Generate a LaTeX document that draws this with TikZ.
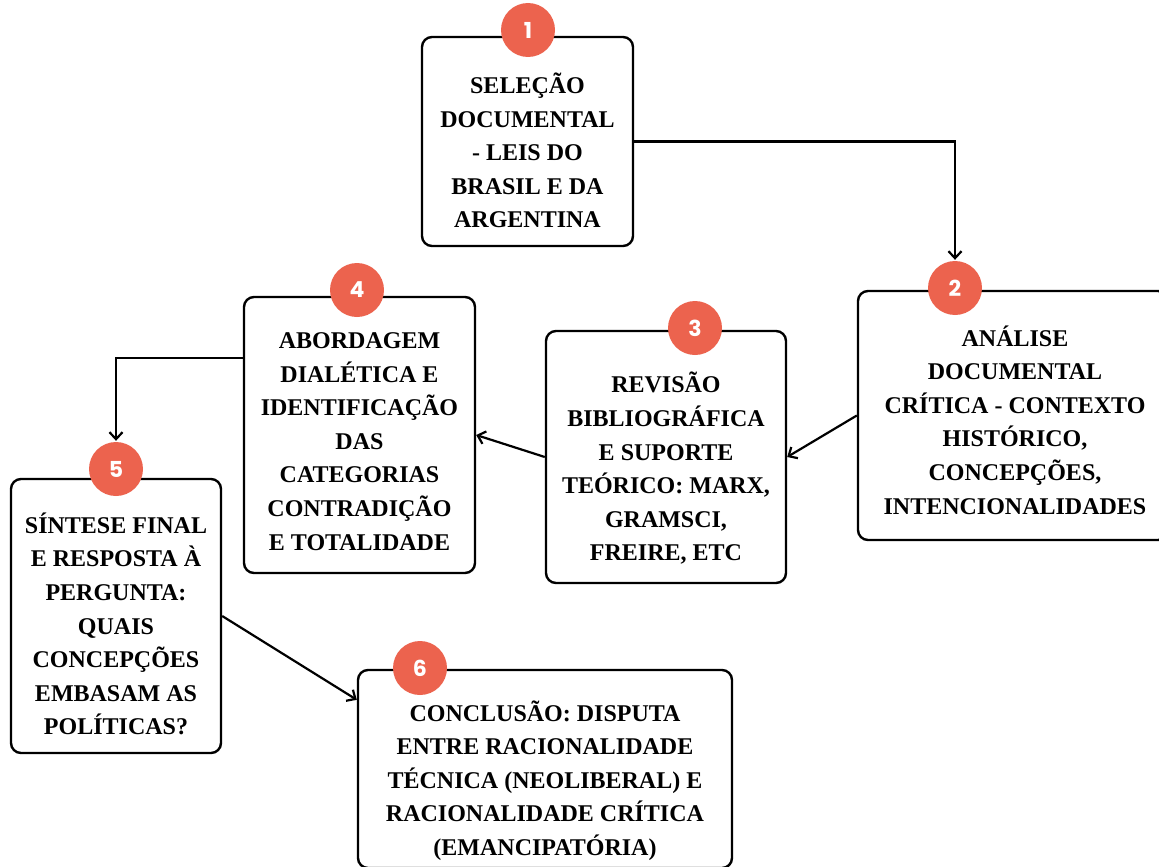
\documentclass[tikz,border=0pt]{standalone}
\usepackage{fontspec}
\setmainfont{Liberation Serif}
\newfontfamily\badgefont{Poppins}
\usetikzlibrary{arrows.meta,calc}
\definecolor{coral}{HTML}{EC634E}
\begin{document}
\begin{tikzpicture}[x=1pt,y=-1pt,
  box/.style={draw=black, line width=2.4pt, rounded corners=10pt, fill=white, inner sep=0pt},
  txt/.style={align=center, font=\fontsize{24}{33.6}\selectfont\bfseries, inner sep=0pt, text=black},
  badge/.style={circle, fill=coral, minimum size=54pt, inner sep=0pt, text=white, font=\badgefont\fontsize{22}{22}\selectfont\bfseries},
  conn/.style={draw=black, line width=2.2pt, -{Straight Barb[length=7pt,width=13pt,line width=2.2pt]}}
]
\useasboundingbox (0,0) rectangle (1159,867);
\clip (0,0) rectangle (1159,867);
% boxes
\node[box, minimum width=211pt, minimum height=209pt] (b1) at (527.5,141.5) {};
\node[box, minimum width=310pt, minimum height=249pt] (b2) at (1013,415.5) {};
\node[box, minimum width=240pt, minimum height=252pt] (b3) at (666,457) {};
\node[box, minimum width=231pt, minimum height=276pt] (b4) at (359.5,435) {};
\node[box, minimum width=210pt, minimum height=274pt] (b5) at (116,616) {};
\node[box, minimum width=374pt, minimum height=198pt] (b6) at (545,769) {};
% texts
\node[txt] (t1) at ([yshift=-9pt]b1.center) {SELEÇÃO\\DOCUMENTAL\\- LEIS DO\\BRASIL E DA\\ARGENTINA};
\node[txt] (t2) at ([yshift=-4.5pt,xshift=2pt]b2.center) {ANÁLISE\\DOCUMENTAL\\CRÍTICA - CONTEXTO\\HISTÓRICO,\\CONCEPÇÕES,\\INTENCIONALIDADES};
\node[txt] (t3) at ([yshift=-11.5pt]b3.center) {REVISÃO\\BIBLIOGRÁFICA\\E SUPORTE\\TEÓRICO: MARX,\\GRAMSCI,\\FREIRE, ETC};
\node[txt] (t4) at ([yshift=-6.5pt]b4.center) {ABORDAGEM\\DIALÉTICA E\\IDENTIFICAÇÃO\\DAS\\CATEGORIAS\\CONTRADIÇÃO\\E TOTALIDADE};
\node[txt] (t5) at ([yshift=-8pt]b5.center) {SÍNTESE FINAL\\E RESPOSTA À\\PERGUNTA:\\QUAIS\\CONCEPÇÕES\\EMBASAM AS\\POLÍTICAS?};
\node[txt] (t6) at ([yshift=-11.5pt]b6.center) {CONCLUSÃO: DISPUTA\\ENTRE RACIONALIDADE\\TÉCNICA (NEOLIBERAL) E\\RACIONALIDADE CRÍTICA\\(EMANCIPATÓRIA)};
% badges
\node[badge] (c1) at (528,30) {1};
\node[badge] (c2) at (955,288) {2};
\node[badge] (c3) at (695,328) {3};
\node[badge] (c4) at (357,290) {4};
\node[badge] (c5) at (116,469) {5};
\node[badge] (c6) at (420,668) {6};
% connectors
\draw[conn] (b1.east) -| ([yshift=1pt]c2.north);
\draw[conn] (b2.west) -- (b3.east);
\draw[conn] (b3.west) -- (b4.east);
\draw[conn] ([yshift=-62pt]b4.north west) -| ([yshift=1pt]c5.north);
\draw[conn] (b5.east) -- ([yshift=-31pt]b6.north west);
\end{tikzpicture}
\end{document}
